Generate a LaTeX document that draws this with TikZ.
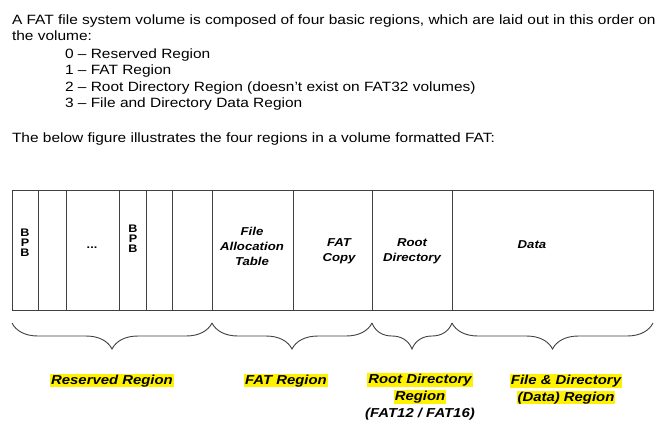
\documentclass[tikz,border=0pt]{standalone}
\usepackage{fontspec}
\setmainfont[FakeStretch=1.15]{Liberation Sans}
\usetikzlibrary{decorations.pathreplacing}
\setlength{\fboxsep}{0.8pt}
\newcommand{\hl}[1]{\colorbox{yellow}{#1}}
\begin{document}
\begin{tikzpicture}[x=1bp,y=-1bp]
\tikzstyle{every node}=[inner sep=0pt,outer sep=0pt]
\tikzstyle{txt}=[anchor=base west,font=\fontsize{13.5}{16}\selectfont]
\tikzstyle{cell}=[draw=black!75,line width=0.9bp,minimum height=120bp,anchor=north west]
\tikzstyle{ctxt}=[align=center,font=\fontsize{11.5}{15}\selectfont\bfseries\itshape]
\tikzstyle{bpb}=[align=center,font=\fontsize{11}{10}\selectfont\bfseries]
\tikzstyle{lab}=[anchor=base,align=center,font=\fontsize{13}{17}\selectfont\bfseries\itshape]
\tikzstyle{brc}=[draw=black!75,line width=0.9bp,decorate,decoration={brace,mirror,amplitude=26bp}]
\useasboundingbox (0,0) rectangle (669,427);

\node[txt](p1) at (12,24) {A FAT file system volume is composed of four basic regions, which are laid out in this order on};
\node[txt](p2) at (12,40) {the volume:};
\node[txt](p3) at (65,58) {0 – Reserved Region};
\node[txt](p4) at (65,74.5) {1 – FAT Region};
\node[txt](p5) at (65,91) {2 – Root Directory Region (doesn’t exist on FAT32 volumes)};
\node[txt](p6) at (65,107.5) {3 – File and Directory Data Region};
\node[txt](p7) at (12,142) {The below figure illustrates the four regions in a volume formatted FAT:};

\node[cell,minimum width=26bp](c1) at (12,190) {};
\node[cell,minimum width=28bp](c2) at (38,190) {};
\node[cell,minimum width=53bp](c3) at (66,190) {};
\node[cell,minimum width=27bp](c4) at (119,190) {};
\node[cell,minimum width=26bp](c5) at (146,190) {};
\node[cell,minimum width=40bp](c6) at (172,190) {};
\node[cell,minimum width=81bp](c7) at (212,190) {};
\node[cell,minimum width=79bp](c8) at (293,190) {};
\node[cell,minimum width=80bp](c9) at (372,190) {};
\node[cell,minimum width=201bp](c10) at (452,190) {};

\node[bpb](b1) at (25,243) {B\\P\\B};
\node[bpb](b3) at (92,248) {...};
\node[bpb](b4) at (133,239) {B\\P\\B};
\node[ctxt](b7) at (252,246) {File\\Allocation\\Table};
\node[ctxt](b8) at (339,251) {FAT\\Copy};
\node[ctxt](b9) at (412,251) {Root\\Directory};
\node[ctxt](b10) at (532,245) {Data};

\draw[brc] ([yshift=-13bp]c1.south west) -- ([yshift=-13bp]c6.south east);
\draw[brc] ([yshift=-13bp]c7.south west) -- ([yshift=-13bp]c8.south east);
\draw[brc] ([yshift=-13bp]c9.south west) -- ([yshift=-13bp]c9.south east);
\draw[brc] ([yshift=-13bp]c10.south west) -- ([yshift=-13bp]c10.south east);

\node[lab](r1) at (112,384) {\hl{Reserved Region}};
\node[lab](r2) at (286,384) {\hl{FAT Region}};
\node[lab](r3) at (420,417) {\hl{Root Directory}\\\hl{Region}\\(FAT12 / FAT16)};
\node[lab](r4) at (566,401) {\hl{File \& Directory}\\\hl{(Data) Region}};
\end{tikzpicture}
\end{document}
